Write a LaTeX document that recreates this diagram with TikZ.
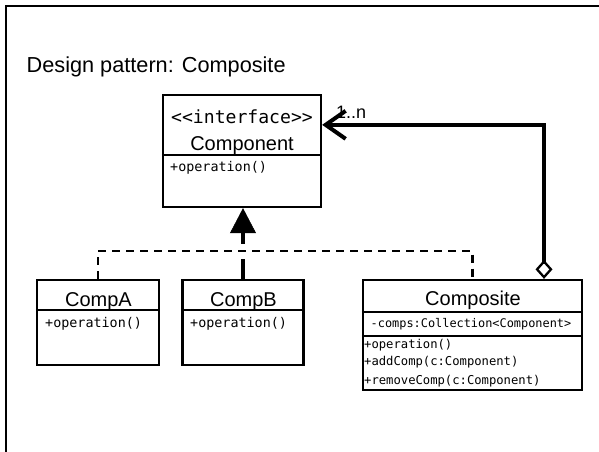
\documentclass[tikz,border=0pt]{standalone}
\usepackage{fontspec}
\setmainfont{Liberation Sans}
\newfontfamily\umlmono{DejaVu Sans Mono}
\usetikzlibrary{arrows.meta}
\begin{document}
\begin{tikzpicture}[x=1pt,y=-1pt,
  umlbox/.style={draw, line width=2.3pt, rectangle, inner sep=0pt},
  divider/.style={line width=2pt},
  txt/.style={inner sep=0pt},
  classname/.style={txt, anchor=base, font=\fontsize{20}{24}\selectfont},
  member/.style={txt, anchor=base west, font=\umlmono\fontsize{13.4}{16}\selectfont},
  smallmember/.style={txt, anchor=base west, font=\umlmono\fontsize{12.2}{15}\selectfont},
  heavy/.style={line width=4.6pt},
  realize/.style={line width=2.2pt, dash pattern=on 8pt off 6pt},
]
\useasboundingbox (0,0) rectangle (599,451);

% outer frame (only its top and left edges fall inside the page)
\draw[line width=2.4pt] (620,6) -- (6,6) -- (6,470);

% title
\node[txt, anchor=base west, font=\fontsize{21.7}{26}\selectfont] (title) at (26.5,72) {Design pattern: Composite};

% Component interface
\node[umlbox, minimum width=158pt, minimum height=112pt] (comp) at (242,151) {};
\draw[divider] ([yshift=-61pt]comp.north west) -- ([yshift=-61pt]comp.north east);
\node[txt, anchor=base, font=\umlmono\fontsize{18.1}{22}\selectfont] (stereo) at (242,123) {<{}<interface>{}>};
\node[classname] (compname) at (242,150.7) {Component};
\node[member] (compop) at (170,171) {+operation()};

% CompA
\node[umlbox, minimum width=122pt, minimum height=85pt] (compA) at (98,322.5) {};
\draw[divider] ([yshift=-31pt]compA.north west) -- ([yshift=-31pt]compA.north east);
\node[classname] (compAname) at (98.5,306) {CompA};
\node[member] (compAop) at (45,327.5) {+operation()};

% CompB
\node[umlbox, minimum width=121pt, minimum height=85pt] (compB) at (243,322.5) {};
\draw[divider] ([yshift=-31pt]compB.north west) -- ([yshift=-31pt]compB.north east);
\node[classname] (compBname) at (243.5,306) {CompB};
\node[member] (compBop) at (190,327.5) {+operation()};

% Composite
\node[umlbox, minimum width=219pt, minimum height=110pt] (composite) at (472.5,335) {};
\draw[divider] ([yshift=-33pt]composite.north west) -- ([yshift=-33pt]composite.north east);
\draw[divider] ([yshift=-57pt]composite.north west) -- ([yshift=-57pt]composite.north east);
\node[classname] (compositename) at (473,305) {Composite};
\node[smallmember, font=\umlmono\fontsize{11.9}{14}\selectfont] (attr) at (370.5,327) {-comps:Collection<{}Component>{}};
\node[smallmember] (op1) at (364,348.5) {+operation()};
\node[smallmember] (op2) at (364,365.5) {+addComp(c:Component)};
\node[smallmember] (op3) at (364,384) {+removeComp(c:Component)};

% generalisation from CompB
\draw[heavy, -{Triangle[length=25pt,width=26pt,line width=0.5pt]}]
  (compB.north) -- (compB.north |- comp.south);

% realisation lines from CompA and Composite, with a white gap where they cross
\coordinate (bus) at (0,251);
\draw[white, line width=15pt] (compA.north |- bus) -- (composite.north |- bus);
\draw[realize] (compA.north) -- (compA.north |- bus) -| (composite.north);

% aggregation from Composite back to Component
\draw[heavy, line join=miter,
  {Straight Barb[length=20pt,width=28pt,line width=4pt]}-{Diamond[open,length=19pt,width=17pt,line width=2.3pt]}]
  ([yshift=-31pt]comp.north east) -| ([xshift=71.5pt]composite.north);
\node[txt, anchor=base west, font=\fontsize{18}{22}\selectfont] (mult) at (336,118.3) {1..n};
\end{tikzpicture}
\end{document}
